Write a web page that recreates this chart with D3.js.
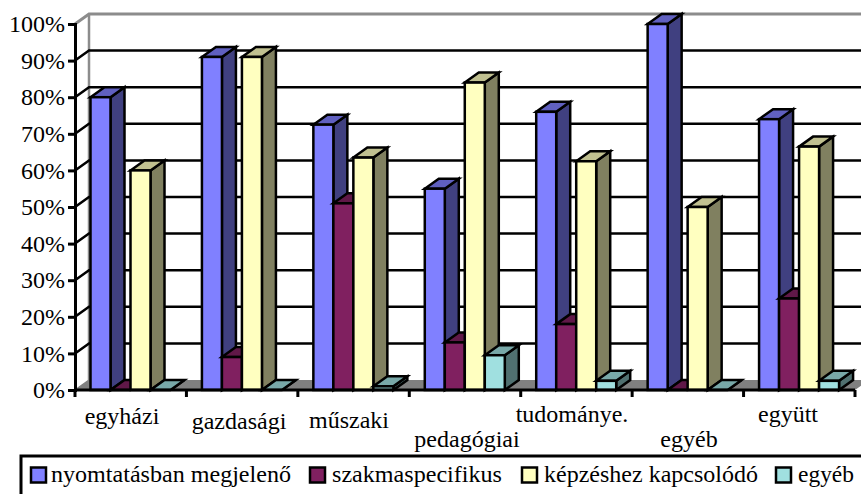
<!DOCTYPE html>
<html>
<head>
<meta charset="utf-8">
<script src="https://cdn.jsdelivr.net/npm/d3@7/dist/d3.min.js"></script>
<style>
html,body{margin:0;padding:0;background:#fff;overflow:hidden}
svg{display:block}
text{font-family:"Liberation Serif","Times New Roman",serif;fill:#000}
</style>
</head>
<body>
<svg id="chart" width="861" height="494"></svg>
<script>
const categories = ["egyházi","gazdasági","műszaki","pedagógiai","tudománye.","egyéb","együtt"];
const seriesNames = ["nyomtatásban megjelenő","szakmaspecifikus","képzéshez kapcsolódó","egyéb"];
const printed = [80,91,72.5,55,76,100,74];
const specific = [0,9,51,13,18,0,25];
const training = [60,91,63.5,84,62.5,50,66.5];
const other = [0,0,1,9.5,2.5,0,2.5];
const percentTicks = [0,10,20,30,40,50,60,70,80,90,100];

const seriesValues = [printed,specific,training,other];
const fronts = ["#8080ff","#802060","#ffffc0","#a0e0e0"];
const tops   = ["#6060c0","#601848","#c0c090","#78a8a8"];
const sides  = ["#404080","#401030","#808060","#507070"];

// Oblique projection of the chart box
const depthX = 14, depthY = 10;
const left = 75, right = 855, bottom = 390, topY = 24;

const svg = d3.select("#chart");
const x = d3.scaleBand().domain(categories).range([left,right]);
const series = d3.scaleBand().domain(d3.range(4)).range([0,80]);
const y = d3.scaleLinear().domain([0,100]).range([bottom,topY]);
const groupInset = 15.5;

// Floor
svg.append("path")
  .attr("d",`M${left},${bottom}L${left+depthX},${bottom-depthY}L${right+depthX},${bottom-depthY}L${right},${bottom}Z`)
  .attr("fill","#808080");

// Back and side wall edges
svg.append("path")
  .attr("d",`M${left},${topY}L${left+depthX},${topY-depthY}L861,${topY-depthY}`)
  .attr("fill","none").attr("stroke","#8c8c8c").attr("stroke-width",3);
svg.append("line")
  .attr("x1",left+depthX).attr("x2",left+depthX)
  .attr("y1",topY-depthY).attr("y2",bottom-depthY)
  .attr("stroke","#8c8c8c").attr("stroke-width",2.5);

// Gridlines running across the side wall and the back wall
svg.append("g").selectAll("path")
  .data(percentTicks.filter(t=>t>0 && t<100))
  .join("path")
  .attr("d",t=>`M${left},${y(t)}L${left+depthX},${y(t)-depthY}L861,${y(t)-depthY}`)
  .attr("fill","none").attr("stroke","#000").attr("stroke-width",2.5);
svg.append("path")
  .attr("d",`M${left},${bottom}L${left+depthX},${bottom-depthY}`)
  .attr("stroke","#808080").attr("stroke-width",1.5);

// Bars: each one is a front, a top and a side face
const bars = svg.append("g").attr("stroke","#000").attr("stroke-width",2.5).attr("stroke-linejoin","miter");
categories.forEach((cat,c)=>{
  seriesValues.forEach((vals,s)=>{
    const x0 = x(cat)+groupInset+series(s), x1 = x0+series.bandwidth();
    const yv = y(vals[c]);
    const g = bars.append("g");
    g.append("path").attr("fill",sides[s])
      .attr("d",`M${x1},${yv}L${x1+depthX},${yv-depthY}L${x1+depthX},${bottom-depthY}L${x1},${bottom}Z`);
    g.append("path").attr("fill",tops[s])
      .attr("d",`M${x0},${yv}L${x0+depthX},${yv-depthY}L${x1+depthX},${yv-depthY}L${x1},${yv}Z`);
    if(vals[c]>0) g.append("rect").attr("fill",fronts[s])
      .attr("x",x0).attr("y",yv).attr("width",x1-x0).attr("height",bottom-yv);
  });
});

// Axes
const yAxis = svg.append("g").attr("transform",`translate(${left},0)`)
  .call(d3.axisLeft(y).tickValues(percentTicks).tickFormat(d=>d+"%").tickSize(7).tickPadding(3));
const xAxis = svg.append("g").attr("transform",`translate(0,${bottom})`)
  .call(d3.axisBottom(x).tickSize(0).tickPadding(0));
[yAxis,xAxis].forEach(a=>{
  a.selectAll("path.domain").attr("stroke","#000").attr("stroke-width",3);
  a.selectAll(".tick line").attr("stroke","#000").attr("stroke-width",3);
});
yAxis.selectAll("text").attr("font-size",24).style("font-family",'"Liberation Serif",serif');

// Category ticks sit on the band edges
svg.append("g").selectAll("line")
  .data(d3.range(categories.length+1))
  .join("line")
  .attr("x1",i=>left+i*x.bandwidth()).attr("x2",i=>left+i*x.bandwidth())
  .attr("y1",bottom).attr("y2",bottom+7)
  .attr("stroke","#000").attr("stroke-width",3);

// Staggered category labels: horizontal centre and baseline
const labelCentres = [122,239,349,467,572,689,788];
const labelBaselines = [424,429,428,447,422,447,422];
xAxis.selectAll(".tick text")
  .attr("font-size",24)
  .style("font-family",'"Liberation Serif",serif')
  .attr("text-anchor","middle")
  .attr("dy",0)
  .each(function(d,i){
    d3.select(this.parentNode).attr("transform",null);
    d3.select(this).attr("x",labelCentres[i]).attr("y",labelBaselines[i]-bottom);
  });
xAxis.select("path.domain").attr("d",`M${left},0H${right}`);

// Legend
svg.append("rect").attr("x",21).attr("y",456).attr("width",860).attr("height",60)
  .attr("fill","#fff").attr("stroke","#000").attr("stroke-width",3);
const legendSwatchX = [31,310,522,776];
const legendTextX = [51,332,544,798];
const legendWidths = [240,170,214,56];
const legend = svg.append("g").selectAll("g").data(seriesNames).join("g");
legend.append("rect")
  .attr("x",(d,i)=>legendSwatchX[i]).attr("y",467.5).attr("width",15).attr("height",15)
  .attr("fill",(d,i)=>fronts[i]).attr("stroke","#000").attr("stroke-width",2.5);
legend.append("text")
  .attr("x",(d,i)=>legendTextX[i]).attr("y",482)
  .attr("font-size",22.5)
  .attr("textLength",(d,i)=>legendWidths[i])
  .attr("lengthAdjust","spacingAndGlyphs")
  .text(d=>d);
</script>
</body>
</html>
